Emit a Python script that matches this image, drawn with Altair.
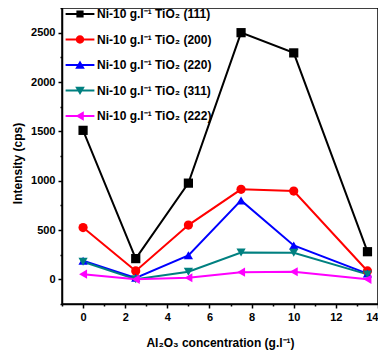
import altair as alt
import pandas as pd

# ---- data ----
conc = [0, 2.5, 5, 7.5, 10, 13.5]
series_names = [
    "Ni-10 g.l⁻¹ TiO₂ (111)",
    "Ni-10 g.l⁻¹ TiO₂ (200)",
    "Ni-10 g.l⁻¹ TiO₂ (220)",
    "Ni-10 g.l⁻¹ TiO₂ (311)",
    "Ni-10 g.l⁻¹ TiO₂ (222)",
]
s111 = [1510, 210, 975, 2500, 2295, 280]
s200 = [525, 85, 550, 912, 895, 85]
s220 = [188, 15, 243, 800, 343, 58]
s311 = [178, 0, 77, 272, 269, 50]
s222 = [52, 0, 16, 72, 77, 0]
all_values = [s111, s200, s220, s311, s222]

x_major = [0, 2, 4, 6, 8, 10, 12, 14]
x_minor = [-1, 1, 3, 5, 7, 9, 11, 13]
y_major = [0, 500, 1000, 1500, 2000, 2500]
y_minor = [-250, 250, 750, 1250, 1750, 2250, 2750]

colors = ["#000000", "#FF0000", "#0000FF", "#008080", "#FF00FF"]
shapes = ["square", "circle", "triangle-up", "triangle-down", "triangle-left"]

# legend symbols: a horizontal line with the marker on it (path units scaled by sqrt(size)/2)
line_part = "M-3.6,-0.25H3.6V0.25H-3.6Z"
legend_paths = [
    line_part + "M-0.9,-0.9H0.9V0.9H-0.9Z",
    line_part + "M-1.05,0A1.05,1.05,0,1,1,1.05,0A1.05,1.05,0,1,1,-1.05,0Z",
    line_part + "M0,-1.1L1.2,0.95H-1.2Z",
    line_part + "M-1.2,-0.95H1.2L0,1.1Z",
    line_part + "M-1.1,0L0.95,-1.2V1.2Z",
]

rows = []
for name, vals in zip(series_names, all_values):
    for c, v in zip(conc, vals):
        rows.append({"conc": c, "intensity": v, "series": name})
df = pd.DataFrame(rows)
legend_df = pd.DataFrame({"series": series_names})

FONT = "Liberation Sans"

xscale = alt.Scale(domain=[-1, 14], nice=False, zero=False)
yscale = alt.Scale(domain=[-250, 2750], nice=False, zero=False)

base = alt.Chart(df)

lines = base.mark_line(strokeWidth=2).encode(
    x=alt.X("conc:Q", scale=xscale,
            axis=alt.Axis(values=x_major, title="Al₂O₃ concentration (g.l⁻¹)", format="d",
                          tickSize=4, labelPadding=3, titlePadding=15, orient="bottom")),
    y=alt.Y("intensity:Q", scale=yscale,
            axis=alt.Axis(values=y_major, title="Intensity (cps)", format="d",
                          tickSize=4, labelPadding=3, titlePadding=6, titleY=155,
                          orient="left")),
    color=alt.Color("series:N", scale=alt.Scale(domain=series_names, range=colors), legend=None),
)

points = base.mark_point(filled=True, size=85, opacity=1).encode(
    x=alt.X("conc:Q", scale=xscale, axis=None),
    y=alt.Y("intensity:Q", scale=yscale, axis=None),
    color=alt.Color("series:N", scale=alt.Scale(domain=series_names, range=colors), legend=None),
    shape=alt.Shape("series:N", scale=alt.Scale(domain=series_names, range=shapes), legend=None),
)

minor = base.mark_point(opacity=0).encode(
    x=alt.X("conc:Q", scale=xscale,
            axis=alt.Axis(values=x_minor, labels=False, domain=False, tickSize=2,
                          title=None, orient="bottom")),
    y=alt.Y("intensity:Q", scale=yscale,
            axis=alt.Axis(values=y_minor, labels=False, domain=False, tickSize=2,
                          title=None, orient="left")),
)

legend_def = alt.Legend(
    orient="none", legendX=12, legendY=0, title=None,
    labelFont=FONT, labelFontSize=12, labelFontWeight="bold", labelColor="black",
    labelLimit=300, labelOffset=11, rowPadding=13.5,
    symbolOpacity=1, symbolStrokeWidth=0, symbolSize=64,
)

legend_layer = alt.Chart(legend_df).mark_point(filled=True, opacity=0, size=64).encode(
    color=alt.Color("series:N", scale=alt.Scale(domain=series_names, range=colors), legend=legend_def),
    shape=alt.Shape("series:N", scale=alt.Scale(domain=series_names, range=legend_paths), legend=legend_def),
)

chart = (
    alt.layer(lines, points, minor, legend_layer)
    .resolve_scale(color="independent", shape="independent")
    .resolve_axis(x="independent", y="independent")
    .properties(
        width=316, height=296,
        autosize=alt.AutoSizeParams(type="none"),
        padding={"left": 54, "top": 0, "right": 0, "bottom": 48},
        background="white",
    )
    .configure_view(stroke="black", strokeWidth=1.5)
    .configure_axis(
        domainColor="black", domainWidth=1.5, tickColor="black", tickWidth=1.5,
        labelColor="black", titleColor="black", labelFont=FONT, titleFont=FONT,
        labelFontWeight="bold", titleFontWeight="bold", labelFontSize=11, titleFontSize=12,
        grid=False,
    )
)

chart.save("out.html", embed_options={"renderer": "svg", "actions": False})
